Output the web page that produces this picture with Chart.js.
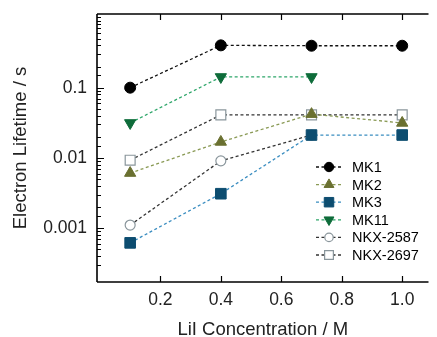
<!DOCTYPE html>
<html><head><meta charset="utf-8">
<script src="https://cdn.jsdelivr.net/npm/chart.js@4/dist/chart.umd.min.js"></script>
<style>html,body{margin:0;padding:0;background:#fff;}#wrap{width:437px;height:337px;}</style>
</head><body><div id="wrap"><canvas id="c" width="437" height="337"></canvas></div>
<script>
const concentrations = [0.1, 0.4, 0.7, 1.0];
const mk1 = [0.1, 0.40, 0.395, 0.395];
const mk2 = [0.0061, 0.0169, 0.042, 0.0315];
const mk3 = [0.00062, 0.0031, 0.0212, 0.0212];
const mk11 = [0.0315, 0.142, 0.142, null];
const nkx2587 = [0.00111, 0.0091, 0.0212, null];
const nkx2697 = [0.0093, 0.041, 0.041, 0.041];
const seriesLabels = ['MK1', 'MK2', 'MK3', 'MK11', 'NKX-2587', 'NKX-2697'];
const xTickValues = [0.2, 0.4, 0.6, 0.8, 1.0];
const yTickLabels = [0.1, 0.01, 0.001];

const styles = [
  {line:'#111', fill:'#000', stroke:'#000', shape:'circle', r:5.5},
  {line:'#8a9a55', fill:'#6a7030', stroke:'#6a7030', shape:'triangle', r:6.5},
  {line:'#3a8dc0', fill:'#0d4d70', stroke:'#0d4d70', shape:'rect', r:7.5},
  {line:'#2ea66a', fill:'#0e6c3a', stroke:'#0e6c3a', shape:'triangle', r:6.5, rot:180},
  {line:'#333', fill:'#fff', stroke:'#8a969c', shape:'circle', r:5},
  {line:'#333', fill:'#fff', stroke:'#8a969c', shape:'rect', r:7}
];
const allData = [mk1, mk2, mk3, mk11, nkx2587, nkx2697];

const datasets = allData.map((vals, i) => {
  const s = styles[i];
  const pts = [];
  vals.forEach((v, j) => { if (v !== null) pts.push({x: concentrations[j], y: v}); });
  return {
    label: seriesLabels[i],
    data: pts,
    borderColor: s.line,
    borderWidth: 1.3,
    borderDash: [3, 2.5],
    pointStyle: s.shape,
    pointRotation: s.rot || 0,
    pointRadius: s.r,
    pointBackgroundColor: s.fill,
    pointBorderColor: s.stroke,
    pointBorderWidth: (i >= 4) ? 1.2 : 1,
    showLine: true,
    fill: false
  };
});

const axesPlugin = {
  id: 'axesPlugin',
  afterDraw(chart) {
    const ctx = chart.ctx;
    const xs = chart.scales.x, ys = chart.scales.y;
    const a = chart.chartArea;
    ctx.save();
    ctx.strokeStyle = '#000';
    ctx.lineWidth = 1.6;
    ctx.beginPath();
    ctx.moveTo(a.left, a.top); ctx.lineTo(a.right, a.top);
    ctx.moveTo(a.left, a.top); ctx.lineTo(a.left, a.bottom);
    ctx.moveTo(a.left, a.bottom); ctx.lineTo(a.right, a.bottom);
    ctx.stroke();
    ctx.lineWidth = 1.2;
    ctx.beginPath();
    xTickValues.forEach(v => {
      const px = Math.round(xs.getPixelForValue(v)) + 0.5;
      ctx.moveTo(px, a.bottom); ctx.lineTo(px, a.bottom - 6);
      ctx.moveTo(px, a.top); ctx.lineTo(px, a.top + 6);
    });
    ys.ticks.forEach(t => {
      const py = Math.round(ys.getPixelForValue(t.value)) + 0.5;
      if (py < a.top + 1 || py > a.bottom - 1) return;
      const major = yTickLabels.some(m => Math.abs(m - t.value) / m < 1e-6);
      ctx.moveTo(a.left, py); ctx.lineTo(a.left + (major ? 7 : 4), py);
    });
    ctx.stroke();

    // legend
    const lx0 = 316, lx1 = 342, mx = 329, tx = 352, y0 = 167, dy = 17.6;
    ctx.font = '14.5px "Liberation Sans", Arial, sans-serif';
    ctx.textBaseline = 'middle';
    ctx.fillStyle = '#000';
    chart.data.datasets.forEach((ds, i) => {
      const y = y0 + i * dy;
      ctx.save();
      ctx.strokeStyle = ds.borderColor;
      ctx.lineWidth = 1.3;
      ctx.setLineDash([3, 2.5]);
      ctx.beginPath();
      ctx.moveTo(lx0, y); ctx.lineTo(lx1, y);
      ctx.stroke();
      ctx.setLineDash([]);
      ctx.fillStyle = ds.pointBackgroundColor;
      ctx.strokeStyle = ds.pointBorderColor;
      ctx.lineWidth = ds.pointBorderWidth;
      Chart.helpers.drawPoint(ctx, {pointStyle: ds.pointStyle, rotation: ds.pointRotation, radius: ds.pointRadius - 0.8, borderWidth: ds.pointBorderWidth}, mx, y);
      ctx.restore();
      ctx.fillText(ds.label, tx, y + 1);
    });
    ctx.restore();
  }
};

new Chart(document.getElementById('c'), {
  type: 'scatter',
  data: { datasets },
  options: {
    responsive: false,
    animation: false,
    devicePixelRatio: 1,
    layout: { padding: { top: 14, right: 0, left: 0, bottom: 0 } },
    plugins: { legend: { display: false }, tooltip: { enabled: false } },
    scales: {
      x: {
        type: 'linear', min: -0.0097, max: 1.087,
        afterFit(s) { s.height = 55; s.paddingLeft = 0; s.paddingRight = 0; },
        afterBuildTicks(s) { s.ticks = xTickValues.map(v => ({value: v})); },
        grid: { display: false, drawTicks: false },
        border: { display: false },
        ticks: { padding: 8, color: '#222', font: { size: 17.5, family: '"Liberation Sans", Arial, sans-serif' },
          callback: v => v.toFixed(1) },
        title: { display: true, text: 'LiI Concentration / M', color: '#222',
          font: { size: 18.5, family: '"Liberation Sans", Arial, sans-serif' }, padding: { top: 0, bottom: -4 } }
      },
      y: {
        type: 'logarithmic', min: 0.000172, max: 1.117,
        afterFit(s) { s.width = 97; s.paddingTop = 0; s.paddingBottom = 0; },
        grid: { display: false, drawTicks: false },
        border: { display: false },
        ticks: { padding: 10, autoSkip: false, color: '#222', font: { size: 17.5, family: '"Liberation Sans", Arial, sans-serif' },
          callback: (v) => { const m = yTickLabels.find(t => Math.abs(t - v) / t < 1e-6); return m !== undefined ? String(m) : ''; } },
        title: { display: true, text: 'Electron Lifetime / s', color: '#222',
          font: { size: 18.5, family: '"Liberation Sans", Arial, sans-serif' }, padding: { top: 10, bottom: 0 } }
      }
    }
  },
  plugins: [axesPlugin]
});
</script>
</body></html>
